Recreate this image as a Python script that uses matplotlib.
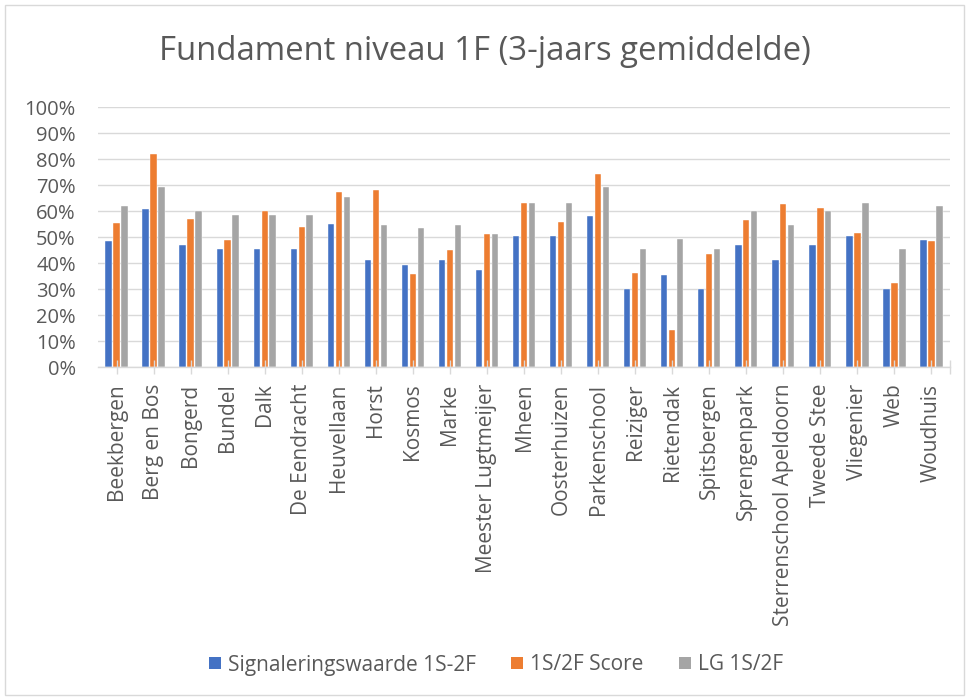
import matplotlib
matplotlib.use("Agg")
import matplotlib.pyplot as plt
from matplotlib.patches import Rectangle
from matplotlib.lines import Line2D
import numpy as np

plt.rcParams['font.family'] = ['Open Sans', 'DejaVu Sans']

categories = ["Beekbergen", "Berg en Bos", "Bongerd", "Bundel", "Dalk", "De Eendracht",
              "Heuvellaan", "Horst", "Kosmos", "Marke", "Meester Lugtmeijer", "Mheen",
              "Oosterhuizen", "Parkenschool", "Reiziger", "Rietendak", "Spitsbergen",
              "Sprengenpark", "Sterrenschool Apeldoorn", "Tweede Stee", "Vliegenier",
              "Web", "Woudhuis"]
signalering = [48.7, 60.9, 47.1, 45.4, 45.4, 45.4, 55.0, 41.2, 39.4, 41.2, 37.3, 50.4,
               50.4, 58.3, 30.1, 35.5, 30.1, 47.1, 41.2, 47.1, 50.4, 30.1, 48.8]
score = [55.5, 82.1, 57.1, 49.0, 60.1, 53.8, 67.3, 68.1, 35.9, 45.0, 51.3, 63.3,
         56.0, 74.2, 36.2, 14.5, 43.5, 56.5, 62.9, 61.3, 51.8, 32.3, 48.6]
lg = [61.9, 69.5, 60.1, 58.5, 58.5, 58.5, 65.6, 54.9, 53.6, 54.9, 51.3, 63.1,
      63.1, 69.4, 45.5, 49.4, 45.5, 60.1, 54.9, 60.1, 63.1, 45.5, 61.9]
series_names = ["Signaleringswaarde 1S-2F", "1S/2F Score", "LG 1S/2F"]
colors = ["#4472C4", "#ED7D31", "#A5A5A5"]
yticks = np.arange(0, 101, 10)

W, H = 969, 700
fig = plt.figure(figsize=(W / 100, H / 100), dpi=100)
fig.patches.append(Rectangle((5 / W, 5 / H), 1 - 10 / W, 1 - 10 / H, transform=fig.transFigure,
                             fill=False, edgecolor="#d9d9d9", linewidth=1.0))
ax = fig.add_axes([98 / W, 1 - 367.3 / H, 852 / W, 260 / H])

x = np.arange(len(categories))
w = 0.172
off = 0.214
for i, (vals, name, c) in enumerate(zip([signalering, score, lg], series_names, colors)):
    ax.bar(x + (i - 1) * off, np.array(vals) / 100.0, width=w, color=c, label=name,
           zorder=2, edgecolor="white", linewidth=0.3)

for t in yticks:
    ax.axhline(t / 100.0, color="#d9d9d9", linewidth=1.0, zorder=0)

ax.set_xlim(-0.5, len(categories) - 0.5)
ax.set_ylim(0, 1.0)
ax.set_axisbelow(False)
ax.set_yticks(yticks / 100.0)
ax.set_yticklabels([f"{t}%" for t in yticks], fontsize=14.5, color="#595959")
ax.tick_params(axis='y', length=0, pad=16)
ax.set_xticks(x)
ax.set_xticklabels(categories, rotation=90, fontsize=15, color="#595959")
ax.set_xticks([len(categories) - 0.5], minor=True)
ax.tick_params(axis='x', which='both', direction='inout', length=9.5, width=1.0,
               color="#d9d9d9", pad=7)
for s in ["top", "right", "left"]:
    ax.spines[s].set_visible(False)
ax.spines["bottom"].set_color("#d9d9d9")
ax.spines["bottom"].set_linewidth(1.0)
ax.spines["bottom"].set_zorder(3)

fig.text(0.5, 1 - 52 / H, "Fundament niveau 1F (3-jaars gemiddelde)", ha="center", va="center",
         fontsize=23.7, color="#595959")

handles = [Line2D([], [], linestyle="none", marker="s", markersize=8.6,
                  markerfacecolor=c, markeredgecolor=c, markeredgewidth=0) for c in colors]
fig.legend(handles, series_names, loc="center", bbox_to_anchor=(496 / W, 1 - 665 / H),
           ncol=3, frameon=False, fontsize=15, handlelength=0.58, handletextpad=0.34,
           columnspacing=1.68, labelcolor="#595959")

fig.savefig("out.png", dpi=100)
